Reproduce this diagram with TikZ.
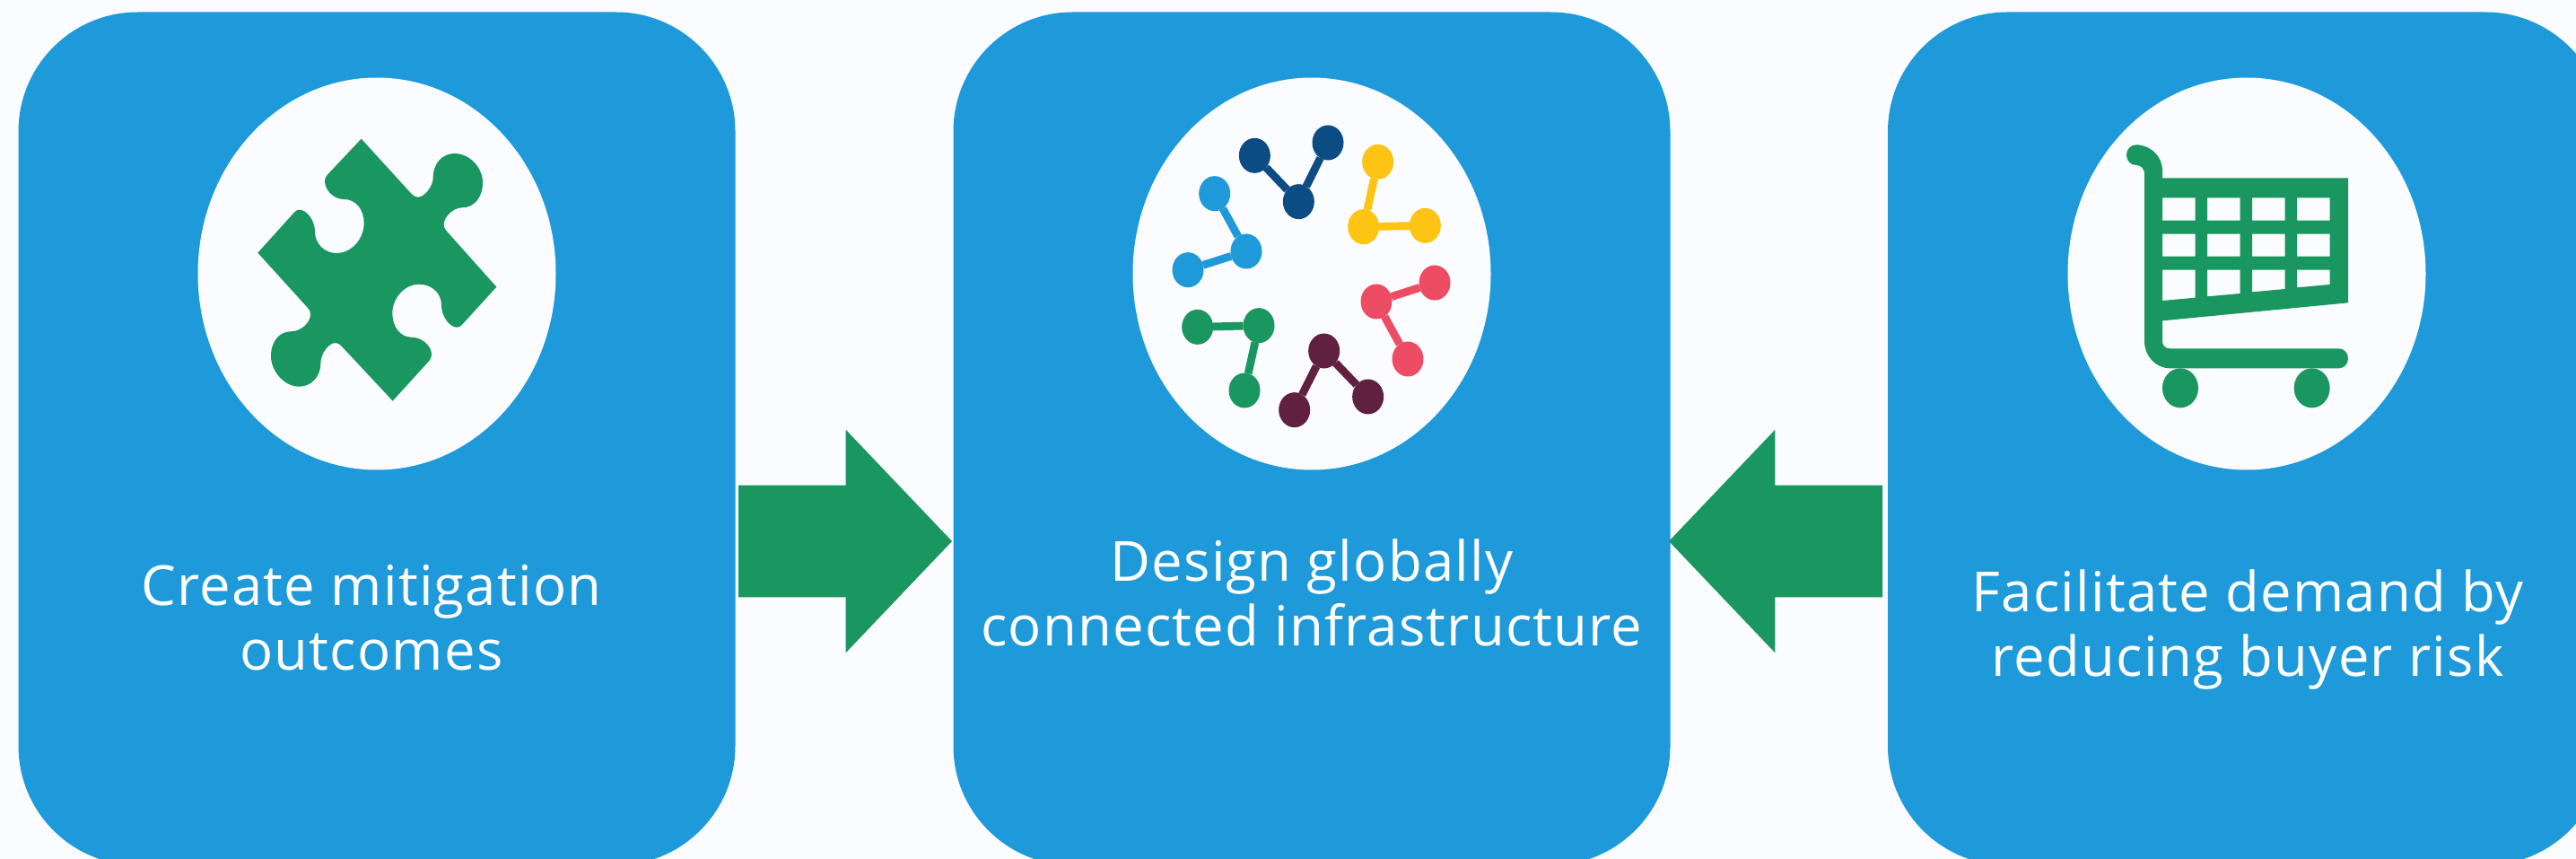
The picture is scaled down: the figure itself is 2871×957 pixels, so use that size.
\documentclass[tikz,border=0pt]{standalone}
\usepackage{fontspec}
\setmainfont{Open Sans}[LetterSpace=2]
\usetikzlibrary{shapes.geometric,shapes.arrows}
\definecolor{PageBg}{HTML}{FBFCFF}
\definecolor{PanelBlue}{HTML}{1E9ADA}
\definecolor{LeafGreen}{HTML}{1A9660}
\definecolor{DeepNavy}{HTML}{0B4C85}
\definecolor{SunYellow}{HTML}{FDC414}
\definecolor{RoseRed}{HTML}{EC4C64}
\definecolor{Plum}{HTML}{602040}
\begin{document}
\begin{tikzpicture}[x=0.5pt,y=-0.5pt]
		\tikzstyle{PanelSty}=[draw=none,fill=PanelBlue,rounded corners=66.5pt,inner sep=0pt,outer sep=0pt,
								  minimum width=399.5pt,minimum height=475.25pt]
		\tikzstyle{BadgeSty}=[ellipse,fill=PageBg,inner sep=0pt,outer sep=0pt,
								  minimum width=199.5pt,minimum height=218.5pt]
		\tikzstyle{CaptionSty}=[text=white,align=center,inner sep=0pt,font=\fontsize{30.8}{36}\selectfont]
		\tikzstyle{PushSty}=[single arrow,fill=LeafGreen,inner xsep=0pt,inner ysep=31pt,outer sep=0pt,minimum height=119pt,
								  minimum width=124pt,single arrow head extend=31pt,single arrow tip angle=92.8,anchor=tip]
		\tikzstyle{DotSty}=[ellipse,inner sep=0pt,outer sep=0pt,minimum width=17.5pt,minimum height=19.5pt]

\useasboundingbox (0,0) rectangle (2871,957);
\fill[PageBg] (0,0) rectangle (2871,957);
\clip (0,0) rectangle (2871,957);

\node[PanelSty] at (420,488.75) (create) {};
\node[PanelSty] at (1462,488.75) (design) {};
\node[PanelSty] at (2503.5,488.75) (facilitate) {};

\node[BadgeSty] at (420,305) (createbadge) {};
\node[BadgeSty] at (1462,305) (designbadge) {};
\node[BadgeSty] at (2504,305) (facilitatebadge) {};

\node[CaptionSty] at (414,688) (createtext) {Create mitigation\\outcomes};
\node[CaptionSty] at (1462,660) (designtext) {Design globally\\connected infrastructure};
\node[CaptionSty] at (2505,701) (facilitatetext) {Facilitate demand by\\reducing buyer risk};

\node[PushSty] at (1061,603) (createpush) {};
\node[PushSty,shape border rotate=180] at (1860,603) (facilitatepush) {};

% puzzle piece
\begin{scope}[shift={(200,70)},scale=1/3]
\fill[LeafGreen] (608,254) -- (775,437) .. controls (785,447) and (790,449) .. (797,449)
  .. controls (820,449) and (848,412) .. (848,385) .. controls (848,335) and (880,303) .. (920,303)
  .. controls (970,303) and (1014,350) .. (1014,400) .. controls (1014,450) and (985,484) .. (945,484)
  .. controls (915,484) and (884,515) .. (884,540) .. controls (884,548) and (887,555) .. (892,561)
  -- (1060,749) -- (948,872) .. controls (940,881) and (935,884) .. (928,884)
  .. controls (905,884) and (876,850) .. (876,810) .. controls (876,770) and (845,740) .. (800,740)
  .. controls (755,740) and (712,785) .. (712,835) .. controls (712,885) and (740,917) .. (775,917)
  .. controls (810,917) and (843,945) .. (843,975) .. controls (843,983) and (840,990) .. (835,996)
  -- (713,1130) -- (545,950) .. controls (535,940) and (530,936) .. (522,936)
  .. controls (500,936) and (472,970) .. (472,1005) .. controls (472,1050) and (440,1082) .. (400,1082)
  .. controls (350,1082) and (306,1030) .. (306,980) .. controls (306,930) and (335,898) .. (372,898)
  .. controls (405,898) and (438,870) .. (438,840) .. controls (438,832) and (435,825) .. (430,820)
  -- (262,635) -- (382,502) .. controls (390,494) and (395,491) .. (400,491)
  .. controls (425,491) and (453,525) .. (453,565) .. controls (453,605) and (485,636) .. (525,636)
  .. controls (575,636) and (617,590) .. (617,535) .. controls (617,490) and (590,456) .. (550,456)
  .. controls (515,456) and (486,425) .. (486,395) .. controls (486,387) and (489,381) .. (494,375) -- cycle;
\end{scope}

% molecule groups
\begin{scope}[shift={(1240,70)},scale=1/3]
\foreach \name/\col/\hx/\hy/\ax/\ay/\bx/\by in {
  navy/DeepNavy/622/464/475/310/720/267,
  yellow/SunYellow/839/548/887/331/1045/544,
  red/RoseRed/882/798/1077/735/987/990,
  plum/Plum/707/963/608/1160/854/1116,
  green/LeafGreen/489/878/284/883/441/1095,
  sky/PanelBlue/447/630/341/437/252/692}
{
  \node[DotSty,fill=\col] at (\hx,\hy) (\name hub) {};
  \node[DotSty,fill=\col] at (\ax,\ay) (\name one) {};
  \node[DotSty,fill=\col] at (\bx,\by) (\name two) {};
  \draw[\col,line width=4.4pt] (\name hub) -- (\name one);
  \draw[\col,line width=4.4pt] (\name hub) -- (\name two);
}
\end{scope}

% shopping cart
\begin{scope}[shift={(2290,70)},scale=1/3]
\fill[LeafGreen,even odd rule] (272,274) .. controls (320,274) and (360,312) .. (360,360) -- (360,385)
  -- (981,385) -- (981,802) -- (360,862) -- (360,930) .. controls (360,945) and (370,955) .. (385,955)
  -- (950,955) .. controls (968,955) and (981,970) .. (981,988) .. controls (981,1006) and (968,1021) .. (950,1021)
  -- (385,1021) .. controls (338,1021) and (300,980) .. (300,930) -- (300,370) .. controls (300,354) and (288,342) .. (272,342)
  .. controls (254,342) and (240,327) .. (240,308) .. controls (240,289) and (254,274) .. (272,274) -- cycle
  \foreach \x in {360,510,660,810} { (\x,451) rectangle (\x+110,527) (\x,572) rectangle (\x+110,647) }
  (360,692) -- (470,692) -- (470,785) -- (360,795) -- cycle
  (510,692) -- (620,692) -- (620,771) -- (510,781) -- cycle
  (660,692) -- (770,692) -- (770,756) -- (660,766) -- cycle
  (810,692) -- (920,692) -- (920,741) -- (810,751) -- cycle;
\node[ellipse,fill=LeafGreen,inner sep=0pt,outer sep=0pt,minimum width=20pt,minimum height=22pt] at (420,1087) (wheelback) {};
\node[ellipse,fill=LeafGreen,inner sep=0pt,outer sep=0pt,minimum width=20pt,minimum height=22pt] at (860,1087) (wheelfront) {};
\end{scope}

\end{tikzpicture}
\end{document}
